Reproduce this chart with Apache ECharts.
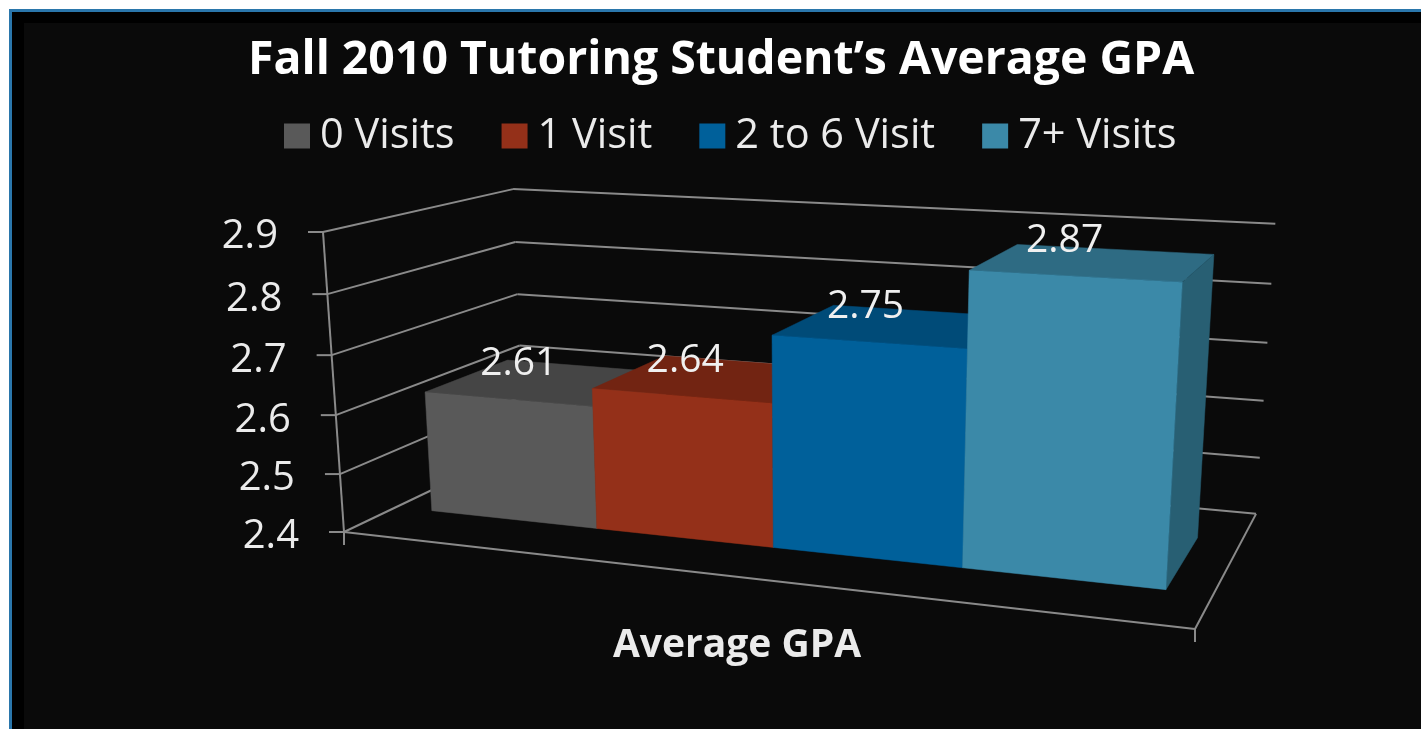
<!DOCTYPE html>
<html>
<head>
<meta charset="utf-8">
<style>
  html, body { margin: 0; height: 100%; background: #fff; overflow: hidden; }
  #frame { position: absolute; left: 9px; top: 9px; right: 0; bottom: 0; border-left: 3px solid #2a76ab; border-top: 3px solid #2a76ab; background: #000; }
  #panel { position: absolute; left: 24px; top: 23px; right: 0; bottom: 0; background: #0a0a0a; }
  #chart { position: absolute; left: 0; top: 0; width: 1421px; height: 729px; filter: blur(0.7px); }
</style>
<script src="https://cdn.jsdelivr.net/npm/echarts@6/dist/echarts.min.js"></script>
</head>
<body>
<div id="frame"></div>
<div id="panel"></div>
<div id="chart"></div>
<script>
const categories = ['Average GPA'];
const seriesNames = ['0 Visits', '1 Visit', '2 to 6 Visit', '7+ Visits'];
const seriesValues = [2.61, 2.64, 2.75, 2.87];
const tickValues = [2.4, 2.5, 2.6, 2.7, 2.8, 2.9];
const tickLabels = ['2.4', '2.5', '2.6', '2.7', '2.8', '2.9'];

const frontColors = ['#595959', '#943019', '#00609a', '#3b89a8'];
const topColors = ['#454545', '#722412', '#004b78', '#2e6b83'];
const sideColors = ['#3c3c3c', '#5e1e0f', '#003f66', '#285f73'];

const font = '"Open Sans", sans-serif';
const lineColor = '#8a8a8a';
const textColor = '#ebebeb';

// the 3d box of the plot: u along the category, v up the value axis, d into the page
const O = [344, 532], U = [1195, 629], V = [323, 232], D = [524, 446];
const wu = 0.85, wv = 0.9572, wd = 1.175;
function project(u, v, d) {
  const w = 1 + (wu - 1) * u + (wv - 1) * v + (wd - 1) * d;
  const p = [0, 1].map(k =>
    O[k] + u * (wu * U[k] - O[k]) + v * (wv * V[k] - O[k]) + d * (wd * D[k] - O[k]));
  return [p[0] / w, p[1] / w + 3 * u * v];
}

const barStart = 0.05, barWidth = 0.225, depthFront = 0.26, depthBack = 0.72;

function toV(api, params, value) {
  const cs = params.coordSys;
  return (cs.y + cs.height - api.coord([0, value])[1]) / cs.height;
}

function poly(points, color) {
  return { type: 'polygon', shape: { points }, style: { fill: color, stroke: color, lineWidth: 0.5 } };
}

function line(a, b) {
  return {
    type: 'line',
    shape: { x1: a[0], y1: a[1], x2: b[0], y2: b[1] },
    style: { stroke: lineColor, lineWidth: 2, fill: null }
  };
}

function renderFrame(params, api) {
  const children = [];
  tickValues.forEach((t, i) => {
    const v = toV(api, params, t);
    const a = project(0, v, 0), b = project(0, v, 1), c = project(1, v, 1);
    children.push(line(a, b), line(b, c), line([a[0] - 15, a[1]], a));
    children.push({
      type: 'text',
      style: { text: tickLabels[i], x: a[0] - 45, y: a[1] + 5, align: 'right', verticalAlign: 'middle', fill: textColor, font: '40px ' + font }
    });
  });
  const bottom = toV(api, params, tickValues[0]), top = toV(api, params, tickValues[tickValues.length - 1]);
  const fl = project(0, bottom, 0), fr = project(1, bottom, 0), br = project(1, bottom, 1);
  children.push(line(project(0, top, 0), fl), line(fl, fr), line(fr, br));
  children.push(line(fl, [fl[0], fl[1] + 13]), line(fr, [fr[0], fr[1] + 13]));
  return { type: 'group', children };
}

function renderBar(params, api) {
  const i = params.seriesIndex - 1;
  const u0 = barStart + barWidth * i, u1 = u0 + barWidth;
  const value = api.value(1);
  const v0 = toV(api, params, tickValues[0]), v1 = toV(api, params, value);
  const d0 = depthFront, d1 = depthBack;
  const uc = (u0 + u1) / 2;
  const labelAt = project(uc, v1, d0);
  return {
    type: 'group',
    children: [
      poly([project(u0, v1, d0), project(u1, v1, d0), project(u1, v1, d1), project(u0, v1, d1)], topColors[i]),
      poly([project(u1, v0, d0), project(u1, v0, d1), project(u1, v1, d1), project(u1, v1, d0)], sideColors[i]),
      poly([project(u0, v0, d0), project(u1, v0, d0), project(u1, v1, d0), project(u0, v1, d0)], frontColors[i]),
      {
        type: 'text',
        z2: 10,
        style: {
          text: value.toFixed(2),
          // labels sit a little closer together than the bars do
          x: labelAt[0] + 1 + 30 * (0.5 - uc),
          y: labelAt[1] - 35,
          align: 'center', verticalAlign: 'middle', fill: '#f0f0f0', font: '39px ' + font
        }
      }
    ]
  };
}

const chart = echarts.init(document.getElementById('chart'));
chart.setOption({
  animation: false,
  backgroundColor: 'transparent',
  title: {
    text: 'Fall 2010 Tutoring Student\u2019s Average GPA',
    left: 243, top: 33,
    textStyle: { color: '#fff', fontFamily: font, fontWeight: 'bold', fontSize: 46.4 }
  },
  legend: {
    data: seriesNames,
    left: 279, top: 110,
    icon: 'rect',
    itemWidth: 26, itemHeight: 25, itemGap: 47,
    textStyle: { color: textColor, fontFamily: font, fontSize: 41.5, padding: [0, 0, 0, 5] }
  },
  grid: { left: 287, width: 900, top: 232, height: 388 },
  xAxis: {
    type: 'category',
    data: categories,
    axisLine: { show: false },
    axisTick: { show: false },
    axisLabel: { color: textColor, fontFamily: font, fontWeight: 'bold', fontSize: 39, margin: 6 }
  },
  yAxis: { type: 'value', min: 2.4, max: 2.9, interval: 0.1, show: false, splitLine: { show: false } },
  series: [
    { type: 'custom', name: 'frame', silent: true, z: 1, data: [[0, tickValues[0]]], renderItem: renderFrame }
  ].concat(seriesNames.map((name, i) => ({
    type: 'custom',
    name,
    z: 2 + i,
    itemStyle: { color: frontColors[i] },
    encode: { x: 0, y: 1 },
    data: [[0, seriesValues[i]]],
    renderItem: renderBar
  })))
});
</script>
</body>
</html>
